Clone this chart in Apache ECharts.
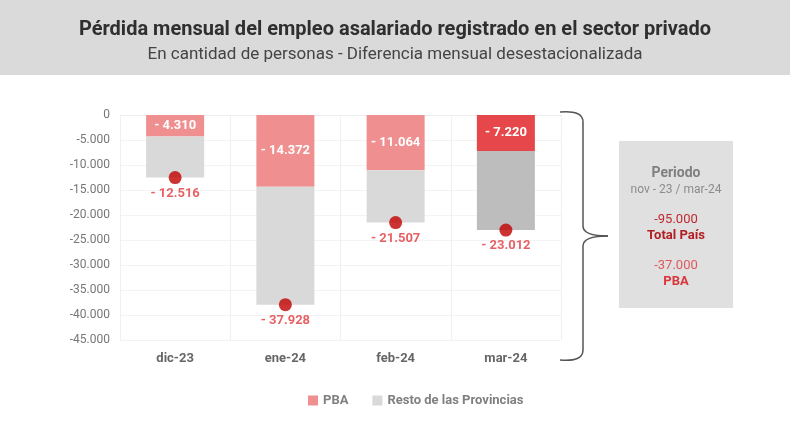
<!DOCTYPE html>
<html>
<head>
<meta charset="utf-8">
<script src="https://cdn.jsdelivr.net/npm/echarts@6/dist/echarts.min.js"></script>
<style>
html, body { margin: 0; padding: 0; background: #fff; }
#chart { width: 790px; height: 444px; }
</style>
</head>
<body>
<div id="chart"></div>
<script>
// datos
var categories = ['dic-23', 'ene-24', 'feb-24', 'mar-24'];
var pba = [-4310, -14372, -11064, -7220];
var total = [-12516, -37928, -21507, -23012];
var resto = [-8206, -23556, -10443, -15792];
var yTicks = { min: -45000, max: 0, step: 5000 };

var fmtMiles = function (v) {
    return String(Math.abs(v)).replace(/\B(?=(\d{3})+(?!\d))/g, '.');
};
var fmtEje = function (v) {
    return (v < 0 ? '-' : '') + fmtMiles(v);
};
var fmtLabel = function (v) {
    return '- ' + fmtMiles(v);
};

var FONT = 'Roboto';
var braceStyle = { fill: null, stroke: '#555', lineWidth: 1.5 };
var curva = function (x1, y1, cx, cy, x2, y2) {
    return { type: 'bezierCurve', z: 10, shape: { x1: x1, y1: y1, cpx1: cx, cpy1: cy, x2: x2, y2: y2 }, style: braceStyle };
};
var recta = function (x1, y1, x2, y2) {
    return { type: 'line', z: 10, shape: { x1: x1, y1: y1, x2: x2, y2: y2 }, style: braceStyle };
};

var myChart = echarts.init(document.getElementById('chart'));
var option = {
    backgroundColor: '#fff',
    animation: false,
    title: [{
        text: 'Pérdida mensual del empleo asalariado registrado en el sector privado',
        left: 'center',
        top: 15,
        textStyle: { fontFamily: FONT, fontSize: 20, fontWeight: 'bold', color: '#2f2f2f' }
    }, {
        text: 'En cantidad de personas - Diferencia mensual desestacionalizada',
        left: 'center',
        top: 41,
        textStyle: { fontFamily: FONT, fontSize: 17, fontWeight: 'normal', color: '#444' }
    }],
    graphic: [
        { type: 'rect', z: -10, shape: { x: 0, y: 0, width: 790, height: 75 }, style: { fill: '#dadada' } },
        curva(560, 112, 583, 110, 583, 122),
        recta(583, 122, 583, 226),
        curva(583, 226, 583, 236, 608, 236),
        curva(608, 236, 583, 236, 583, 246),
        recta(583, 246, 583, 350),
        curva(583, 350, 583, 362, 560, 360),
        { type: 'rect', shape: { x: 619, y: 141, width: 114, height: 167 }, style: { fill: '#e0e0e0' } },
        { type: 'text', x: 676, y: 173, style: { text: 'Periodo', fill: '#7f7f7f', font: 'bold 14px ' + FONT, align: 'center', verticalAlign: 'middle' } },
        { type: 'text', x: 676, y: 190, style: { text: 'nov - 23 / mar-24', fill: '#8c8c8c', font: '12px ' + FONT, align: 'center', verticalAlign: 'middle' } },
        { type: 'text', x: 676, y: 220, style: { text: '-95.000', fill: '#c0282d', font: '13px ' + FONT, align: 'center', verticalAlign: 'middle' } },
        { type: 'text', x: 676, y: 236, style: { text: 'Total País', fill: '#b01e23', font: 'bold 13px ' + FONT, align: 'center', verticalAlign: 'middle' } },
        { type: 'text', x: 676, y: 266, style: { text: '-37.000', fill: '#e0585c', font: '13px ' + FONT, align: 'center', verticalAlign: 'middle' } },
        { type: 'text', x: 676, y: 282, style: { text: 'PBA', fill: '#d9363b', font: 'bold 13px ' + FONT, align: 'center', verticalAlign: 'middle' } }
    ],
    legend: {
        data: ['PBA', 'Resto de las Provincias'],
        top: 389,
        left: 303,
        icon: 'rect',
        itemWidth: 10,
        itemHeight: 10,
        itemGap: 24,
        textStyle: { fontFamily: FONT, fontSize: 13, fontWeight: 'bold', color: '#808080' }
    },
    grid: {
        left: 120,
        right: 229,
        top: 115,
        bottom: 104,
        containLabel: false
    },
    xAxis: {
        type: 'category',
        data: categories,
        axisLine: { lineStyle: { color: '#eee' } },
        axisTick: { show: false },
        splitLine: { show: true, lineStyle: { color: '#f0f0f0' } },
        axisLabel: { fontFamily: FONT, fontSize: 13, fontWeight: 'bold', color: '#666', margin: 12 }
    },
    yAxis: {
        type: 'value',
        min: yTicks.min,
        max: yTicks.max,
        interval: yTicks.step,
        axisLine: { show: false },
        axisTick: { show: false },
        splitLine: { lineStyle: { color: '#f3f3f3' } },
        axisLabel: { fontFamily: FONT, fontSize: 12, color: '#777', margin: 10, formatter: fmtEje }
    },
    series: [
        {
            name: 'PBA',
            type: 'bar',
            stack: 'total',
            barWidth: 58,
            color: '#f08f8f',
            data: pba.map(function (v, i) {
                return i === 3 ? { value: v, itemStyle: { color: '#e5474b' } } : v;
            }),
            label: {
                show: true,
                position: 'inside',
                color: '#fff',
                fontFamily: FONT,
                fontSize: 13,
                fontWeight: 'bold',
                formatter: function (p) { return fmtLabel(p.value); }
            }
        },
        {
            name: 'Resto de las Provincias',
            type: 'bar',
            stack: 'total',
            barWidth: 58,
            color: '#d9d9d9',
            data: resto.map(function (v, i) {
                return i === 3 ? { value: v, itemStyle: { color: '#bdbdbd' } } : v;
            })
        },
        {
            name: 'Total',
            type: 'scatter',
            symbolSize: 13,
            color: '#c00000',
            z: 5,
            data: total,
            label: {
                show: true,
                position: 'bottom',
                distance: 3,
                color: '#e0393e',
                fontFamily: FONT,
                fontSize: 13,
                fontWeight: 'bold',
                formatter: function (p) { return fmtLabel(p.value); }
            }
        }
    ]
};

myChart.setOption(option);
</script>
</body>
</html>
